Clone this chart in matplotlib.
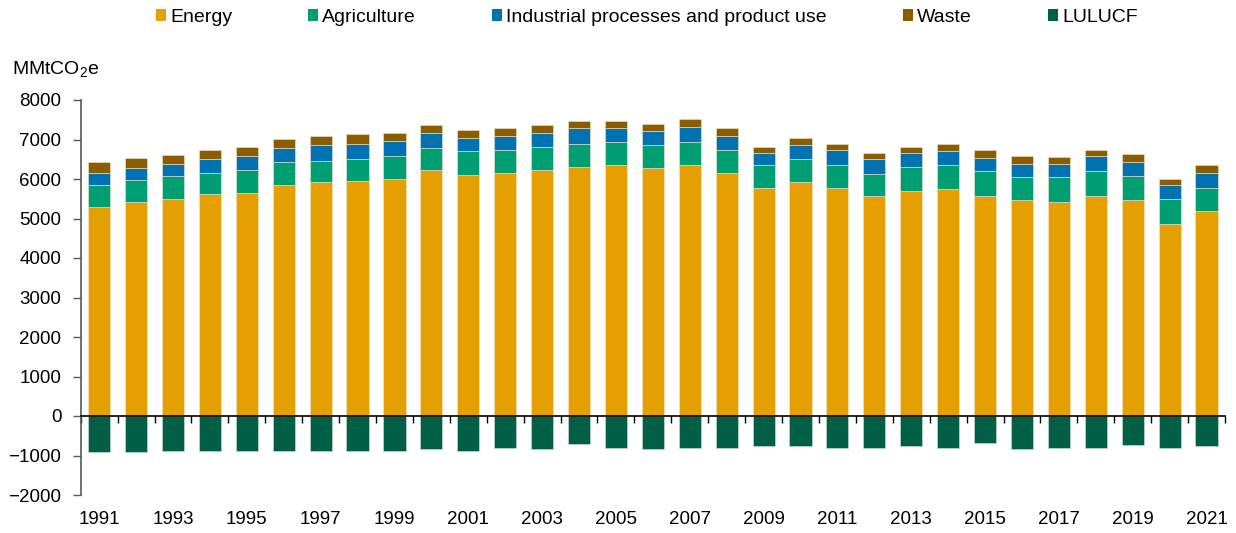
import matplotlib.pyplot as plt
from matplotlib.patches import Patch

plt.rcParams['font.family'] = ['Liberation Sans', 'DejaVu Sans']
plt.rcParams['mathtext.fontset'] = 'custom'
plt.rcParams['mathtext.rm'] = 'Liberation Sans'

years = list(range(1991, 2022))

energy = [5297, 5414, 5490, 5609, 5643, 5838, 5922, 5956, 5998, 6227,
          6108, 6159, 6235, 6311, 6353, 6277, 6353, 6159, 5770, 5931,
          5770, 5575, 5694, 5736, 5575, 5457, 5423, 5575, 5457, 4873, 5185]
agriculture = [541, 550, 584, 541, 584, 592, 542, 550, 584, 550,
               593, 575, 575, 585, 585, 585, 585, 575, 583, 575,
               575, 542, 617, 617, 618, 584, 618, 618, 626, 627, 585]
industrial = [312, 305, 313, 347, 355, 347, 389, 390, 390, 389,
              347, 365, 356, 397, 355, 346, 389, 365, 305, 347,
              398, 389, 347, 348, 347, 346, 346, 389, 347, 338, 380]
waste = [280, 271, 230, 237, 228, 236, 237, 236, 194, 203,
         203, 185, 203, 186, 186, 195, 186, 185, 161, 195,
         153, 161, 161, 195, 194, 195, 161, 152, 194, 160, 203]
lulucf = [-924, -924, -882, -882, -882, -882, -882, -882, -882, -839,
          -882, -806, -839, -713, -806, -839, -806, -806, -756, -756,
          -806, -806, -756, -806, -688, -839, -806, -806, -722, -806, -756]

names = ['Energy', 'Agriculture', 'Industrial processes and product use', 'Waste', 'LULUCF']
colors = ['#E69F00', '#009E73', '#0072B2', '#8A5D00', '#005F45']

fig = plt.figure(figsize=(12.36, 5.33), dpi=100)
ax = fig.add_axes([80.7/1236, 38/533, (1225-80.7)/1236, 395/533])

x = list(range(len(years)))
w = 0.6
bottom = [0]*len(years)
for vals, c in zip([energy, agriculture, industrial, waste], colors[:4]):
    ax.bar(x, vals, w, bottom=bottom, color=c, edgecolor='#f3e6c8', linewidth=0.4)
    bottom = [b+v for b, v in zip(bottom, vals)]
ax.bar(x, lulucf, w, color=colors[4], edgecolor='#cfe3da', linewidth=0.4)

ax.set_xlim(-0.5, len(years)-0.5)
ax.set_ylim(-2000, 8000)
ax.set_yticks(range(-2000, 8001, 1000))

ax.spines['top'].set_visible(False)
ax.spines['right'].set_visible(False)
ax.spines['bottom'].set_position(('data', 0))
ax.spines['bottom'].set_color('black')
ax.spines['bottom'].set_linewidth(1.2)
ax.spines['left'].set_color('#595959')
ax.spines['left'].set_linewidth(1.2)

# boundary ticks on the zero line
ax.set_xticks([i-0.5 for i in range(len(years)+1)])
ax.tick_params(axis='x', direction='out', length=5, width=1, color='black', labelbottom=False)
ax.tick_params(axis='y', direction='out', length=6, width=1, color='#595959',
               labelsize=13.5, labelcolor='black', pad=8)

# year labels at the bottom
sec = ax.secondary_xaxis(0)
sec.set_xticks(x[::2], labels=[str(y) for y in years[::2]])
sec.tick_params(length=0, pad=11.5, labelsize=13.5)
sec.spines['bottom'].set_visible(False)

fig.text(11.7/1236, 1-70/533, r'MMtCO$_\mathregular{2}$e', fontsize=14, va='center', ha='left')

handles = [Patch(facecolor=c, edgecolor='none') for c in colors]
fig.legend(handles, names, loc='center left', bbox_to_anchor=(155.7/1236, 1-17.3/533),
           ncol=5, frameon=False, fontsize=14, borderpad=0, borderaxespad=0,
           handlelength=0.52, handleheight=0.52, handletextpad=0.22, columnspacing=3.9)

plt.savefig('out.png', dpi=100)
